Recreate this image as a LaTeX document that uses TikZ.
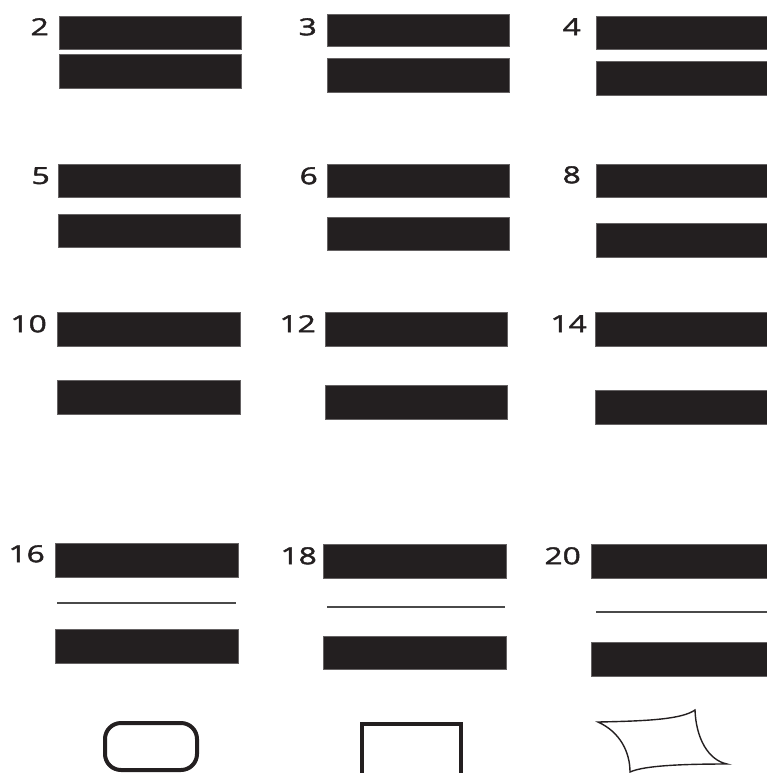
\documentclass[tikz,border=0pt]{standalone}
\usepackage{fontspec}
\setmainfont{Open Sans}
\newfontfamily\lblfont{Open Sans}[FakeBold=1.6]
\usepackage{graphicx}
\definecolor{barblack}{HTML}{231F20}
\definecolor{rulegrey}{HTML}{4A4A4A}
\tikzset{
  bar/.style={fill=barblack, draw=barblack!70, line width=0.6pt},
  thinrule/.style={draw=rulegrey, line width=2pt},
  lbl/.style={anchor=north east, inner sep=0pt, text=barblack, font=\lblfont\fontsize{23.5}{23.5}\selectfont},
  thickshape/.style={draw=barblack, line width=4pt},
  thinshape/.style={draw=barblack, line width=1.4pt, line join=miter}
}
\newcommand{\lab}[1]{\scalebox{1.35}[1]{#1}}
\begin{document}
\begin{tikzpicture}[x=1pt, y=-1pt]
\useasboundingbox (0,0) rectangle (767,773);
% Row A
\node[lbl] (l2) at (49,18) {\lab{2}};
\fill[bar] (59,16) rectangle (241,49);
\fill[bar] (59,54) rectangle (241,88);
\node[lbl] (l3) at (317,18) {\lab{3}};
\fill[bar] (327,14) rectangle (509,46);
\fill[bar] (327,58) rectangle (509,92);
\node[lbl] (l4) at (581,18) {\lab{4}};
\fill[bar] (596,16) rectangle (767,49);
\fill[bar] (596,61) rectangle (767,95);
% Row B
\node[lbl] (l5) at (50,167) {\lab{5}};
\fill[bar] (58,164) rectangle (240,197);
\fill[bar] (58,214) rectangle (240,247);
\node[lbl] (l6) at (318,167) {\lab{6}};
\fill[bar] (327,164) rectangle (509,197);
\fill[bar] (327,217) rectangle (509,250);
\node[lbl] (l8) at (581,166) {\lab{8}};
\fill[bar] (596,164) rectangle (767,197);
\fill[bar] (596,223) rectangle (767,257);
% Row C
\node[lbl] (l10) at (47,315) {\lab{10}};
\fill[bar] (57,312) rectangle (240,346);
\fill[bar] (57,380) rectangle (240,414);
\node[lbl] (l12) at (316,315) {\lab{12}};
\fill[bar] (325,312) rectangle (507,346);
\fill[bar] (325,385) rectangle (507,419);
\node[lbl] (l14) at (587,315) {\lab{14}};
\fill[bar] (595,312) rectangle (767,346);
\fill[bar] (595,390) rectangle (767,424);
% Row D
\node[lbl] (l16) at (45,545) {\lab{16}};
\fill[bar] (55,543) rectangle (238,577);
\draw[thinrule] (57,603) -- (236,603);
\fill[bar] (55,629) rectangle (238,663);
\node[lbl] (l18) at (317,547) {\lab{18}};
\fill[bar] (323,544) rectangle (506,578);
\draw[thinrule] (327,607) -- (505,607);
\fill[bar] (323,636) rectangle (506,669);
\node[lbl] (l20) at (581,547) {\lab{20}};
\fill[bar] (591,544) rectangle (767,578);
\draw[thinrule] (596,612) -- (767,612);
\fill[bar] (591,642) rectangle (767,676);
% Bottom shapes
\draw[thickshape, rounded corners=16pt] (105,723) rectangle (197,770);
\draw[thickshape, line join=miter] (362,776) -- (362,724) -- (461,724) -- (461,776);
\draw[thinshape] (598,722) .. controls (650,721) and (682,719) .. (695,710)
  .. controls (696,738) and (708,760) .. (727,764)
  .. controls (690,764) and (645,765) .. (630,772)
  .. controls (630,752) and (620,732) .. cycle;
\end{tikzpicture}
\end{document}
